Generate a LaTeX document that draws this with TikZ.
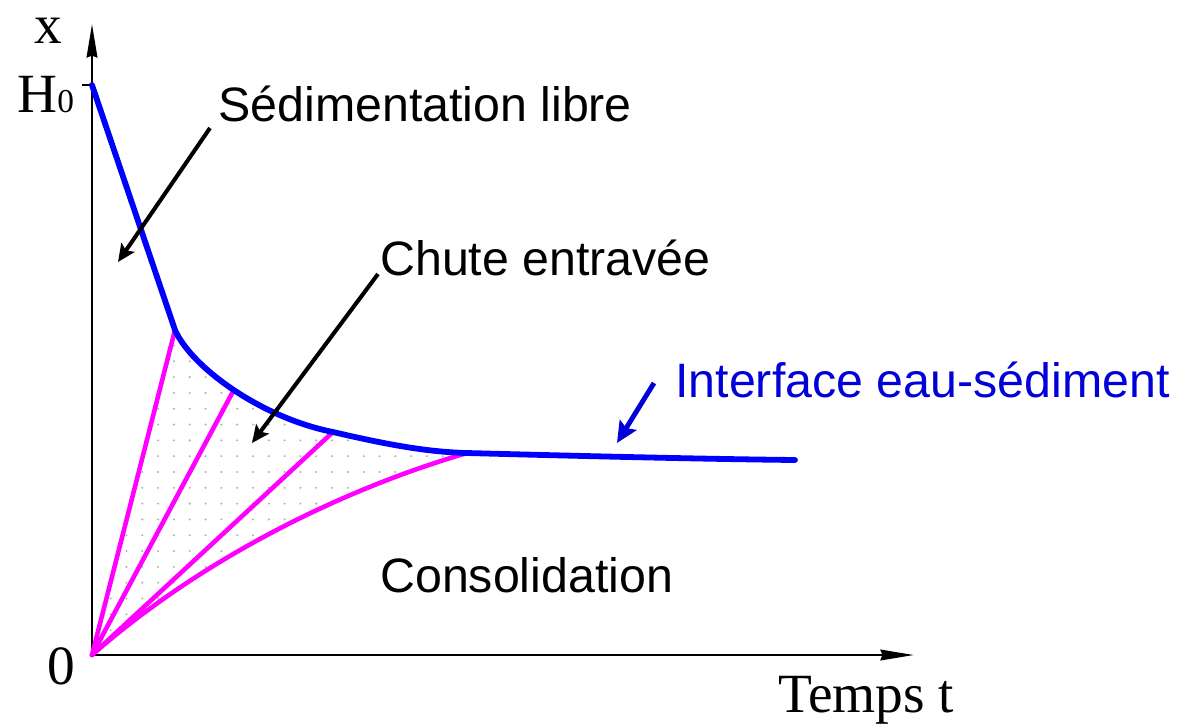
\documentclass[tikz,border=0pt]{standalone}
\usepackage{fontspec}
\setmainfont{Liberation Serif}
\newfontfamily\arialfont{Liberation Sans}
\usetikzlibrary{arrows.meta,patterns.meta}
\definecolor{fanmag}{RGB}{255,0,255}
\definecolor{ifblue}{RGB}{0,0,255}
\definecolor{txtblue}{RGB}{0,0,215}

\begin{document}
\begin{tikzpicture}[x=0.02cm,y=-0.02cm,
  lbl/.style={font=\arialfont\fontsize{27.5}{30}\selectfont,anchor=base west,inner sep=0pt},
  axlbl/.style={font=\fontsize{31.5}{33}\selectfont,anchor=base west,inner sep=0pt},
  axis/.style={line width=1.6pt,-{Stealth[length=19pt,width=6pt,inset=1pt]}},
  arr/.style={line width=2.3pt,-{Stealth[length=10pt,width=9pt,inset=2pt]}},
  iface/.style={draw=ifblue,line width=3.3pt,line cap=round,line join=round},
  fan/.style={draw=fanmag,line width=2.6pt,line cap=round}
]
\useasboundingbox (0,0) rectangle (1188,725);
\coordinate (O) at (92,655);
\coordinate (H) at (92,85);
\coordinate (Htick) at (82,85);
\coordinate (ytip) at (92,24);
\coordinate (xtip) at (914,655);
\coordinate (K1) at (175,330);
\coordinate (K2) at (233.8,390);
\coordinate (K3) at (333,432);
\coordinate (K4) at (467,453);
\coordinate (E) at (795,460);
\path[pattern={Dots[radius=0.65pt,distance=9pt]},pattern color=gray!60]
  (O) -- (K1) .. controls (192,368) and (262,418) .. (K3)
  .. controls (393,446) and (430,452) .. (K4)
  .. controls (340,490) and (200,560) .. (O);
\draw[axis] (O) -- (ytip);
\draw[axis] (O) -- (xtip);
\draw[line width=1.6pt] (Htick) -- (H);
\draw[fan] (O) -- (K1);
\draw[fan] (O) -- (K2);
\draw[fan] (O) -- (K3);
\draw[fan] (O) .. controls (200,560) and (340,490) .. (K4);
\draw[iface] (H) -- (K1) .. controls (192,368) and (262,418) .. (K3)
  .. controls (393,446) and (430,452) .. (K4)
  .. controls (560,455.5) and (700,459) .. (E);
\node[axlbl] (xlab) at (34,43) {x};
\node[axlbl] (h0) at (17,112) {H{\fontsize{19}{20}\selectfont 0}};
\node[axlbl] (zero) at (47,684) {0};
\node[axlbl] (tlab) at (778,712) {Temps t};
\node[lbl] (sed) at (218,121) {Sédimentation libre};
\node[lbl] (chute) at (380,275) {Chute entravée};
\node[lbl,text=txtblue] (inter) at (675,397) {Interface eau-sédiment};
\node[lbl] (conso) at (380,592) {Consolidation};
\coordinate (a1s) at (210,128);
\coordinate (a1e) at (118,262);
\coordinate (a2s) at (378,274);
\coordinate (a2e) at (252,443);
\coordinate (a3s) at (654,383);
\coordinate (a3e) at (617,443);
\draw[arr] (a1s) -- (a1e);
\draw[arr] (a2s) -- (a2e);
\draw[arr,txtblue,line width=2.8pt,-{Stealth[length=12pt,width=11pt,inset=2pt]}] (a3s) -- (a3e);
\end{tikzpicture}
\end{document}
